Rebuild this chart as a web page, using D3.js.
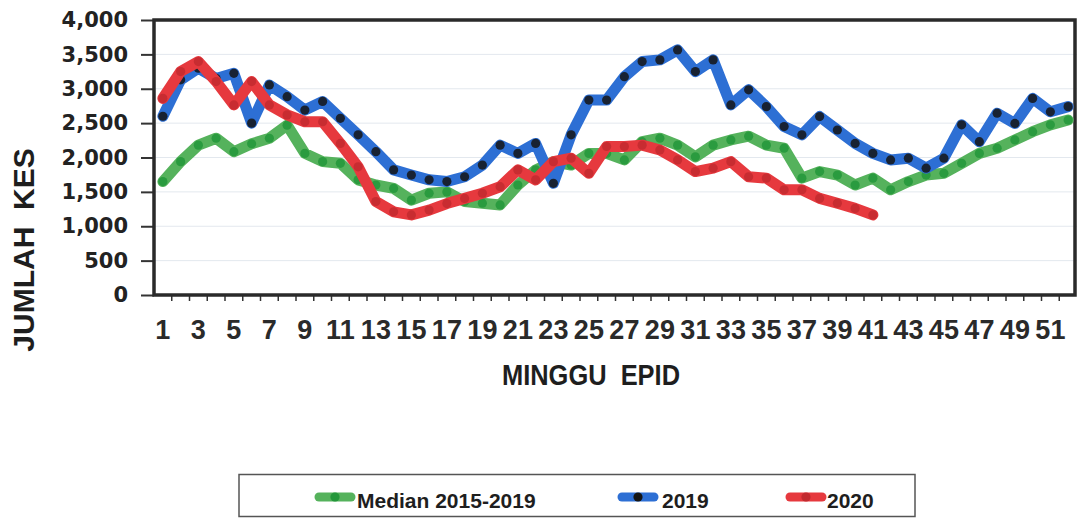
<!DOCTYPE html>
<html>
<head>
<meta charset="utf-8">
<script src="https://cdn.jsdelivr.net/npm/d3@7"></script>
<style>
    body { margin: 0; background: #fff; }
    svg { display: block; }
    .ytick text { font: bold 21px "DejaVu Sans", sans-serif; fill: #222; }
    .xtick text { font: bold 27px "Liberation Sans Narrow", "Arial Narrow", sans-serif; fill: #2a2a2a; }
    .title { font-weight: bold; fill: #1e1e1e; }
    .legend text { font: bold 21px "Liberation Sans", Arial, sans-serif; fill: #1e1e1e; }
</style>
</head>
<body>
<div id="chart"></div>
<script>
// categories (minggu epid)
const weeks = [1,2,3,4,5,6,7,8,9,10,11,12,13,14,15,16,17,18,19,20,21,22,23,24,25,26,
               27,28,29,30,31,32,33,34,35,36,37,38,39,40,41,42,43,44,45,46,47,48,49,50,51,52];
const weekLabels = [1,3,5,7,9,11,13,15,17,19,21,23,25,27,29,31,33,35,37,39,41,43,45,47,49,51];
const yTicks = [0,500,1000,1500,2000,2500,3000,3500,4000];

const median = [1650,1940,2180,2280,2085,2200,2280,2470,2060,1940,1915,1675,1600,1550,1380,1480,
                1500,1360,1335,1310,1600,1820,1940,1890,2060,2060,1965,2230,2280,2180,2010,2180,
                2255,2310,2180,2135,1700,1795,1745,1600,1700,1530,1650,1745,1770,1915,2060,2135,
                2255,2375,2475,2545];
const y2019 = [2600,3130,3300,3150,3225,2500,3055,2885,2690,2815,2570,2330,2085,1820,1745,1675,
               1650,1720,1890,2180,2060,2205,1625,2330,2835,2835,3175,3395,3420,3565,3250,3420,
               2765,2985,2740,2450,2330,2595,2400,2205,2060,1965,1990,1845,1990,2475,2230,2645,
               2495,2860,2665,2740];
const y2020 = [2860,3250,3395,3105,2765,3105,2765,2620,2520,2520,2205,1865,1360,1210,1165,1235,
               1330,1405,1480,1575,1820,1675,1940,1990,1770,2160,2160,2180,2110,1965,1795,1845,
               1940,1720,1700,1530,1530,1405,1335,1260,1165];

const series = [
    {name: 'Median 2015-2019', values: median, line: '#55b25c', dot: '#23973a', lx: 316, tx: 357},
    {name: '2019', values: y2019, line: '#2d6fd4', dot: '#151515', lx: 619, tx: 662},
    {name: '2020', values: y2020, line: '#e6393e', dot: '#c22a2f', lx: 787, tx: 827}
];

const W = 1077, H = 519;
const plotLeft = 154, plotRight = 1077, plotTop = 20, plotBottom = 295;

const svg = d3.select('#chart').append('svg')
    .attr('width', W)
    .attr('height', H);

const x = d3.scaleBand().domain(weeks).range([plotLeft, plotRight]).padding(0);
const y = d3.scaleLinear().domain([0, 4000]).range([plotBottom, plotTop]);
const cx = function(w){ return x(w) + x.bandwidth() / 2; };

// faint gridlines
svg.append('g')
    .selectAll('line')
    .data(yTicks.slice(1, -1))
    .enter()
    .append('line')
    .attr('x1', plotLeft).attr('x2', plotRight)
    .attr('y1', function(d){ return y(d); })
    .attr('y2', function(d){ return y(d); })
    .attr('stroke', '#e3e8ee')
    .attr('stroke-width', 1);

// y axis
const yAxis = svg.append('g')
    .attr('class', 'ytick')
    .attr('transform', 'translate(' + plotLeft + ',0)')
    .call(d3.axisLeft(y).tickValues(yTicks).tickFormat(d3.format(',')).tickSize(13).tickPadding(13));
yAxis.select('.domain').remove();
yAxis.selectAll('line').attr('stroke', '#333').attr('stroke-width', 2);

// x axis labels
const xAxis = svg.append('g')
    .attr('class', 'xtick')
    .attr('transform', 'translate(0,' + plotBottom + ')')
    .call(d3.axisBottom(x).tickValues(weekLabels).tickSize(0).tickPadding(25));
xAxis.select('.domain').remove();

// x tick marks at category boundaries
svg.append('g')
    .selectAll('line')
    .data(weeks.slice(1))
    .enter()
    .append('line')
    .attr('x1', function(d){ return x(d); })
    .attr('x2', function(d){ return x(d); })
    .attr('y1', plotBottom).attr('y2', plotBottom + 6)
    .attr('stroke', '#333')
    .attr('stroke-width', 1.5);

// plot border
svg.append('rect')
    .attr('x', plotLeft).attr('y', plotTop)
    .attr('width', plotRight - plotLeft - 2).attr('height', plotBottom - plotTop)
    .attr('fill', 'none')
    .attr('stroke', '#2a2a2a')
    .attr('stroke-width', 3.5);

const line = d3.line()
    .x(function(d, i){ return cx(weeks[i]); })
    .y(function(d){ return y(d); });

series.forEach(function(s){
    const g = svg.append('g');
    g.append('path')
        .attr('d', line(s.values))
        .attr('fill', 'none')
        .attr('stroke', s.line)
        .attr('stroke-width', 11)
        .attr('stroke-linejoin', 'round')
        .attr('stroke-linecap', 'round');
    g.selectAll('circle')
        .data(s.values)
        .enter()
        .append('circle')
        .attr('cx', function(d, i){ return cx(weeks[i]); })
        .attr('cy', function(d){ return y(d); })
        .attr('r', 4.6)
        .attr('fill', s.dot)
        .attr('opacity', 0.85);
});

// axis titles
svg.append('text')
    .attr('class', 'title')
    .attr('transform', 'translate(34,250) rotate(-90)')
    .attr('text-anchor', 'middle')
    .style('font', 'bold 30px "Liberation Sans", Arial, sans-serif')
    .text('JUMLAH\u00a0\u00a0KES');

svg.append('text')
    .attr('class', 'title')
    .attr('x', 591).attr('y', 385)
    .attr('text-anchor', 'middle')
    .attr('textLength', 178)
    .attr('lengthAdjust', 'spacingAndGlyphs')
    .style('font', 'bold 29px "Liberation Sans Narrow", "Arial Narrow", sans-serif')
    .text('MINGGU\u00a0\u00a0EPID');

// legend
const legend = svg.append('g').attr('class', 'legend');
legend.append('rect')
    .attr('x', 239).attr('y', 474.5)
    .attr('width', 676).attr('height', 42)
    .attr('fill', '#fff')
    .attr('stroke', '#555')
    .attr('stroke-width', 1.5);

series.forEach(function(s){
    legend.append('line')
        .attr('x1', s.lx + 3).attr('x2', s.lx + 35)
        .attr('y1', 497).attr('y2', 497)
        .attr('stroke', s.line)
        .attr('stroke-width', 9)
        .attr('stroke-linecap', 'round');
    legend.append('circle')
        .attr('cx', s.lx + 19).attr('cy', 497)
        .attr('r', 4.6)
        .attr('fill', s.dot);
    legend.append('text')
        .attr('x', s.tx).attr('y', 508)
        .text(s.name);
});
</script>
</body>
</html>
